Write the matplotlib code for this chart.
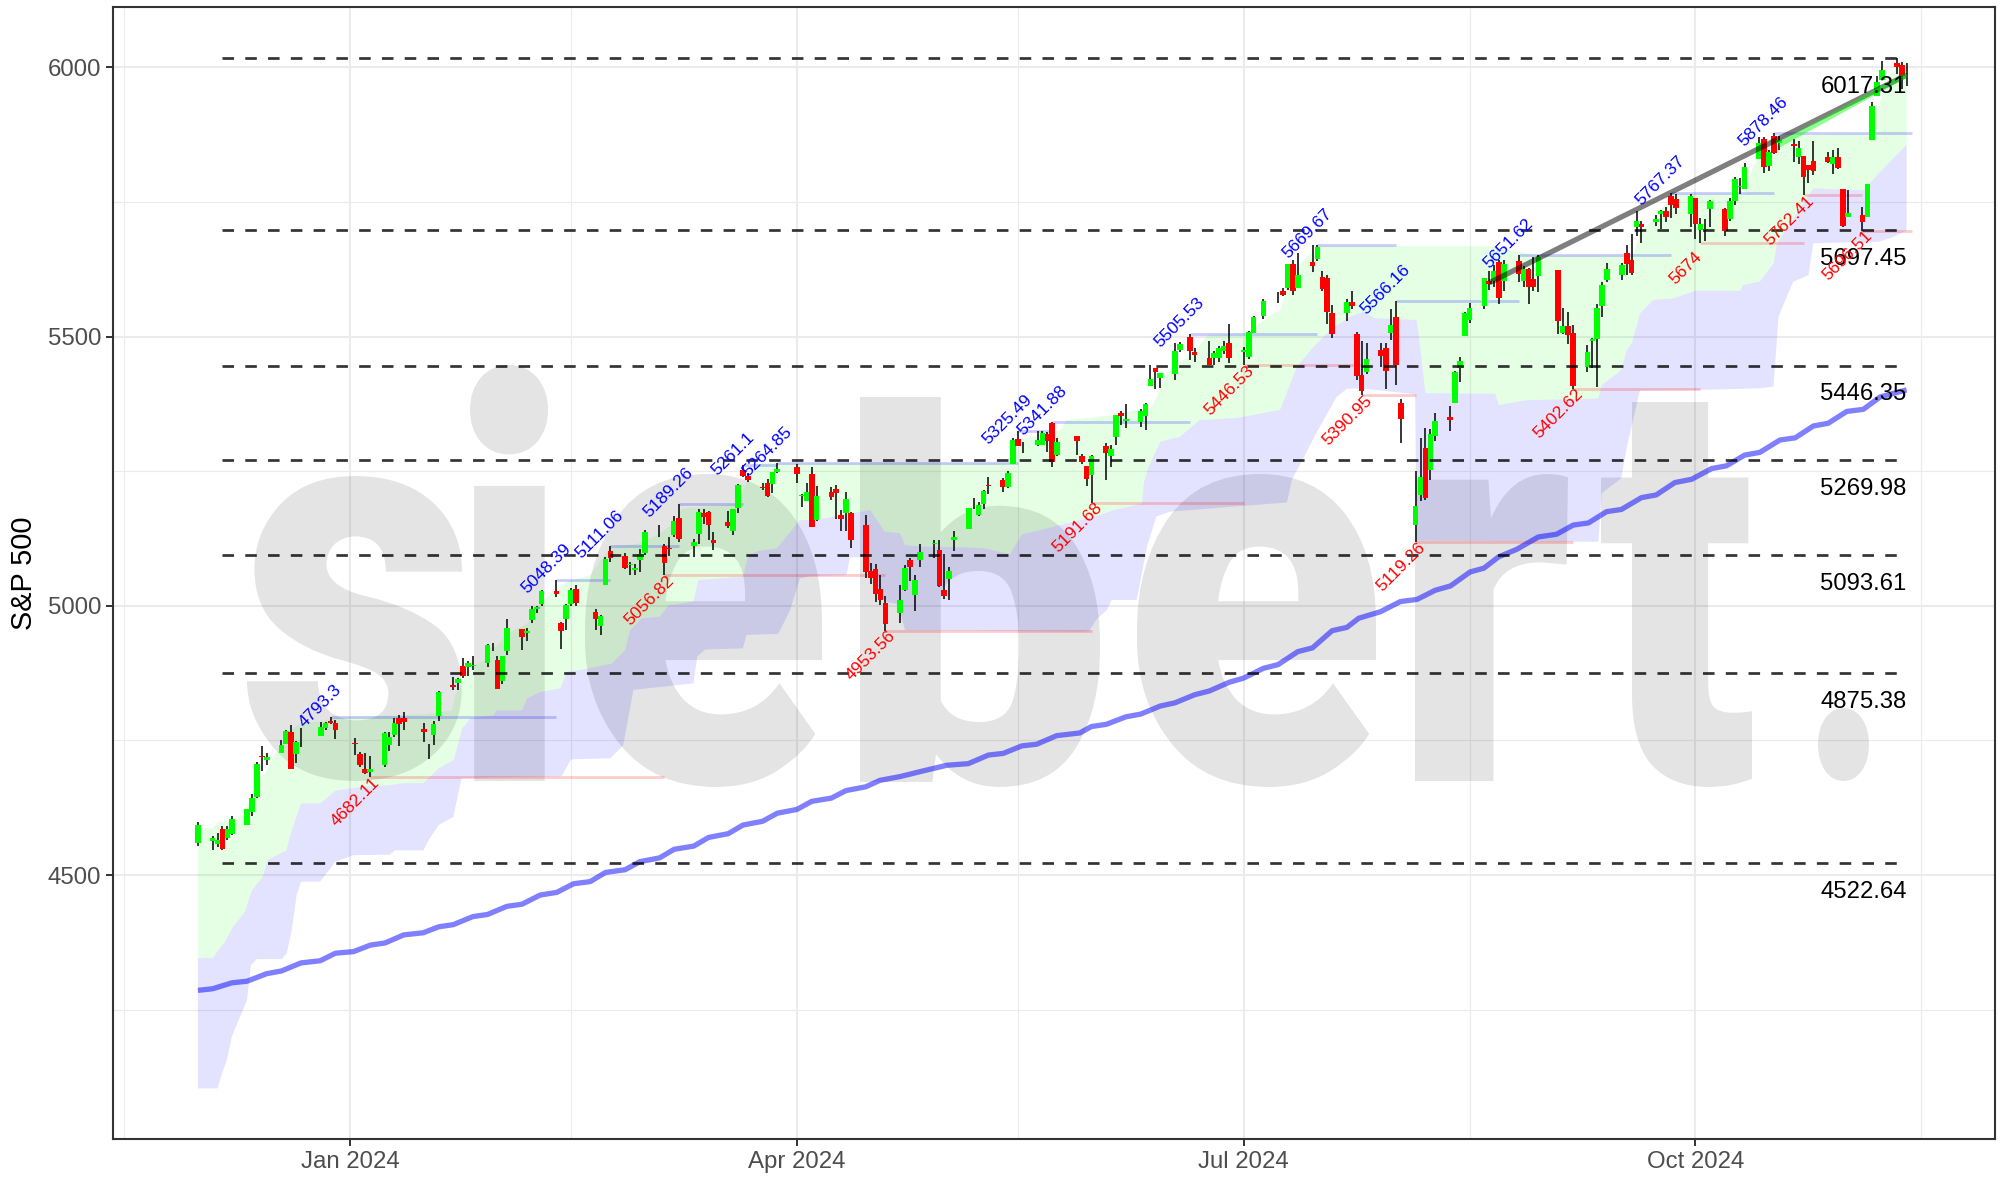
import pandas as pd
import matplotlib
matplotlib.use('Agg')
import matplotlib.pyplot as plt
import matplotlib.dates as mdates
from matplotlib.font_manager import FontProperties
from matplotlib.patches import PathPatch
from matplotlib.textpath import TextPath
from matplotlib.transforms import Affine2D, IdentityTransform

plt.rcParams['font.family'] = ['Liberation Sans', 'DejaVu Sans']

W, H = 2007, 1178

# date, open, high, low, close
dates = ['2023-12-01','2023-12-04','2023-12-05','2023-12-06','2023-12-07','2023-12-08','2023-12-11','2023-12-12','2023-12-13','2023-12-14','2023-12-15','2023-12-18','2023-12-19','2023-12-20','2023-12-21','2023-12-22','2023-12-26','2023-12-27','2023-12-28','2023-12-29',
         '2024-01-02','2024-01-03','2024-01-04','2024-01-05','2024-01-08','2024-01-09','2024-01-10','2024-01-11','2024-01-12','2024-01-16','2024-01-17','2024-01-18','2024-01-19','2024-01-22','2024-01-23','2024-01-24','2024-01-25','2024-01-26','2024-01-29','2024-01-30','2024-01-31',
         '2024-02-01','2024-02-02','2024-02-05','2024-02-06','2024-02-07','2024-02-08','2024-02-09','2024-02-12','2024-02-13','2024-02-14','2024-02-15','2024-02-16','2024-02-20','2024-02-21','2024-02-22','2024-02-23','2024-02-26','2024-02-27','2024-02-28','2024-02-29',
         '2024-03-01','2024-03-04','2024-03-05','2024-03-06','2024-03-07','2024-03-08','2024-03-11','2024-03-12','2024-03-13','2024-03-14','2024-03-15','2024-03-18','2024-03-19','2024-03-20','2024-03-21','2024-03-22','2024-03-25','2024-03-26','2024-03-27','2024-03-28',
         '2024-04-01','2024-04-02','2024-04-03','2024-04-04','2024-04-05','2024-04-08','2024-04-09','2024-04-10','2024-04-11','2024-04-12','2024-04-15','2024-04-16','2024-04-17','2024-04-18','2024-04-19','2024-04-22','2024-04-23','2024-04-24','2024-04-25','2024-04-26','2024-04-29','2024-04-30',
         '2024-05-01','2024-05-02','2024-05-03','2024-05-06','2024-05-07','2024-05-08','2024-05-09','2024-05-10','2024-05-13','2024-05-14','2024-05-15','2024-05-16','2024-05-17','2024-05-20','2024-05-21','2024-05-22','2024-05-23','2024-05-24','2024-05-28','2024-05-29','2024-05-30','2024-05-31',
         '2024-06-03','2024-06-04','2024-06-05','2024-06-06','2024-06-07','2024-06-10','2024-06-11','2024-06-12','2024-06-13','2024-06-14','2024-06-17','2024-06-18','2024-06-20','2024-06-21','2024-06-24','2024-06-25','2024-06-26','2024-06-27','2024-06-28',
         '2024-07-01','2024-07-02','2024-07-03','2024-07-05','2024-07-08','2024-07-09','2024-07-10','2024-07-11','2024-07-12','2024-07-15','2024-07-16','2024-07-17','2024-07-18','2024-07-19','2024-07-22','2024-07-23','2024-07-24','2024-07-25','2024-07-26','2024-07-29','2024-07-30','2024-07-31',
         '2024-08-01','2024-08-02','2024-08-05','2024-08-06','2024-08-07','2024-08-08','2024-08-09','2024-08-12','2024-08-13','2024-08-14','2024-08-15','2024-08-16','2024-08-19','2024-08-20','2024-08-21','2024-08-22','2024-08-23','2024-08-26','2024-08-27','2024-08-28','2024-08-29','2024-08-30',
         '2024-09-03','2024-09-04','2024-09-05','2024-09-06','2024-09-09','2024-09-10','2024-09-11','2024-09-12','2024-09-13','2024-09-16','2024-09-17','2024-09-18','2024-09-19','2024-09-20','2024-09-23','2024-09-24','2024-09-25','2024-09-26','2024-09-27','2024-09-30',
         '2024-10-01','2024-10-02','2024-10-03','2024-10-04','2024-10-07','2024-10-08','2024-10-09','2024-10-10','2024-10-11','2024-10-14','2024-10-15','2024-10-16','2024-10-17','2024-10-18','2024-10-21','2024-10-22','2024-10-23','2024-10-24','2024-10-25','2024-10-28','2024-10-29','2024-10-30','2024-10-31',
         '2024-11-01','2024-11-04','2024-11-05','2024-11-06','2024-11-07','2024-11-08','2024-11-11','2024-11-12','2024-11-13']
opens = [4559,4564,4558,4586,4569,4576,4593,4618,4646,4721,4714,4726,4744,4765,4724,4754,4759,4773,4786,4783,
         4745,4725,4697,4691,4704,4742,4760,4792,4791,4772,4739,4760,4796,4853,4857,4889,4887,4889,4893,4926,4899,
         4861,4916,4957,4950,4973,4995,5004,5027,4968,4976,5003,5031,4989,4963,5039,5101,5093,5075,5067,5085,
         5099,5131,5111,5108,5132,5164,5112,5134,5173,5175,5123,5155,5139,5182,5253,5242,5220,5229,5226,5248,
         5258,5204,5194,5244,5159,5211,5217,5168,5173,5172,5150,5065,5069,5032,5005,4987,5029,5085,5020,5085,5114,5104,
         5029,5049,5123,5142,5187,5169,5189,5225,5233,5221,5263,5310,5303,5299,5299,5319,5340,5281,5316,5279,5260,5243,
         5297,5278,5314,5358,5344,5341,5353,5409,5442,5424,5431,5476,5500,5472,5460,5461,5461,5474,5488,
         5471,5462,5507,5538,5573,5584,5591,5635,5591,5638,5644,5610,5609,5543,5544,5565,5505,5429,5434,5476,5479,5506,
         5537,5377,5151,5206,5293,5252,5315,5351,5377,5442,5501,5530,5557,5603,5603,5638,5603,5640,5603,5625,5607,5613,
         5624,5507,5520,5507,5443,5491,5496,5557,5605,5615,5656,5642,5703,5710,5712,5728,5734,5762,5755,5727,
         5758,5698,5698,5737,5737,5719,5752,5778,5775,5830,5867,5817,5872,5859,5858,5833,5835,5818,5827,5834,5820,5833,5775,
         5723,5725,5722,5865,5947,5977,6009,6004,5986]
highs = [4599,4572,4579,4591,4591,4609,4623,4650,4710,4739,4726,4750,4769,4778,4749,4773,4785,4785,4793.3,4788,
         4754,4729,4727,4721,4765,4765,4791,4798,4802,4782,4744,4786,4842,4868,4866,4904,4898,4907,4929,4931,4907,
         4907,4975,4957,4958,5000,5000,5030,5048.39,4970,5003,5033,5039,4994,4983,5090,5111.06,5098,5081,5077,5105,
         5140,5150,5115,5128,5166,5189.26,5125,5180,5179,5177,5137,5176,5180,5226,5261.1,5246,5229,5235,5249,5264.85,
         5264,5208,5229,5257,5222,5220,5225,5178,5212,5175,5168,5080,5078,5057,5019,5039,5076,5089,5058,5115,5123,5123,
         5096,5073,5139,5181,5200,5192,5215,5240,5237,5250,5312,5325.49,5305,5325,5324,5323,5341.88,5312,5316,5282,5260,5280,
         5302,5299,5354,5362,5375,5366,5376,5447,5442,5432,5489,5490,5505.53,5478,5491,5473,5483,5491,5524,
         5480,5510,5539,5570,5583,5591,5635,5642,5656,5671,5669.67,5622,5614,5558,5570,5585,5508,5492,5488,5488,5489,5551,
         5566.16,5384,5251,5312,5330,5328,5358,5371,5436,5463,5546,5562,5608,5621,5633,5643,5642,5651.62,5632,5627,5647,5651,
         5624,5553,5546,5522,5484,5498,5560,5601,5636,5636,5671,5690,5734,5715,5725,5735,5741,5767.37,5764,5765,
         5758,5720,5719,5753,5739,5758,5797,5795,5822,5871,5870,5847,5878.46,5872,5867,5863,5835,5818,5863,5843,5847,5851,5775,
         5773,5741,5783,5936,5984,6012,6017.31,6010,6008]
lows = [4555,4547,4552,4547,4565,4574,4593,4609,4643,4694,4705,4726,4744,4698,4708,4737,4758,4769,4781,4752,
        4723,4700,4688,4682.11,4700,4730,4756,4740,4769,4747,4715,4741,4786,4844,4844,4866,4869,4881,4887,4916,4845,
        4854,4908,4918,4935,4969,4987,5000,5017,4920,4956,4999,5000,4955,4946,5039,5081,5069,5058,5058,5062,
        5094,5127,5056.82,5092,5128,5118,5091,5114,5152,5123,5104,5145,5132,5172,5240,5230,5216,5203,5210,5246,
        5229,5184,5194,5146,5157,5197,5161,5139,5139,5108,5052,5040,5007,5002,4953.56,4969,5028,5047,4991,5073,5089,5035,
        5013,5011,5101,5142,5179,5166,5180,5208,5211,5218,5263,5296,5284,5296,5298,5286,5257,5278,5281,5263,5222,5191.68,
        5234,5258,5298,5335,5331,5332,5327,5409,5403,5404,5420,5471,5456,5452,5448,5447,5452,5468,5451,
        5446.53,5458,5507,5532,5563,5575,5586,5577,5590,5620,5640,5585,5523,5497,5529,5551,5420,5390.95,5431,5444,5402,5494,
        5410,5302,5119.26,5194,5196,5233,5306,5324,5377,5416,5501,5525,5551,5586,5592,5561,5585,5601,5593,5560,5584,5582,
        5504,5504,5487,5402.62,5434,5442,5407,5536,5602,5605,5614,5615,5686,5674,5705,5699,5712,5721,5727,5704,
        5681,5674,5677,5703,5687,5715,5745,5765,5775,5830,5804,5808,5840,5846,5824,5821,5762.41,5785,5800,5823,5802,5811,5703,
        5723,5696.51,5722,5865,5947,5977,5987,5960,5966]
closes = [4594,4569,4566,4549,4586,4604,4622,4644,4707,4719.5,4719,4741,4768,4698,4747,4755,4775,4782,4783,4770,
          4743,4705,4689,4697,4764,4757,4783,4780,4784,4766,4739.2,4781,4840,4850,4865,4869,4894,4891,4928,4925,4846,
          4906,4959,4943,4954,4995,4998,5027,5022,4953,5001,5030,5006,4976,4982,5087,5089,5070,5078,5070,5096,
          5137,5131,5079,5105,5157,5124,5118,5175,5165,5150,5117,5149,5179,5225,5242,5234,5218,5204,5248,5254,
          5244,5206,5211,5147,5204,5202,5210,5161,5199,5123,5062,5051,5022,5011,4967,5011,5071,5072,5048,5100,5116,5036,
          5018,5064,5128,5181,5188,5188,5214,5223,5221,5247,5308,5297,5303.3,5308,5321,5307,5268,5305,5306,5267,5235,5278,
          5283,5291,5354,5353,5347,5361,5375,5421,5434,5432,5473,5487,5473,5465,5448,5469,5478,5483,5460,
          5475,5509,5537,5567,5572.9,5577,5634,5585,5615,5631,5667,5588,5545,5505,5564,5556,5427,5399,5459,5464,5436,5522,
          5447,5347,5186,5240,5200,5319,5344,5344.4,5434,5455,5543,5554,5608,5597,5621,5571,5635,5617,5626,5592,5592,5648,
          5529,5520,5503,5408,5471,5496,5554,5596,5626,5633,5635,5618,5714,5703,5719,5733,5722,5745,5738,5762,
          5709,5710,5700,5751,5696,5751,5792,5780,5815,5860,5815,5842,5841,5865,5854,5851,5797,5810,5808,5824,5833,5814,5705,
          5729,5713,5783,5929,5973,5996,6001,5984,5985]

# swing levels: date of the point, value as printed, date the level runs to
high_dates = ['2023-12-28','2024-02-12','2024-02-23','2024-03-08','2024-03-21','2024-03-28','2024-05-16','2024-05-23','2024-06-20','2024-07-16','2024-08-01','2024-08-26','2024-09-26','2024-10-17']
high_values = [4793.3,5048.39,5111.06,5189.26,5261.1,5264.85,5325.49,5341.88,5505.53,5669.67,5566.16,5651.62,5767.37,5878.46]
high_labels = ['4793.3','5048.39','5111.06','5189.26','5261.1','5264.85','5325.49','5341.88','5505.53','5669.67','5566.16','5651.62','5767.37','5878.46']
high_ends = ['2024-02-12','2024-02-23','2024-03-08','2024-03-21','2024-03-28','2024-05-16','2024-05-23','2024-06-20','2024-07-16','2024-08-01','2024-08-26','2024-09-26','2024-10-17','2024-11-14']
low_dates = ['2024-01-05','2024-03-05','2024-04-19','2024-05-31','2024-07-01','2024-07-25','2024-08-05','2024-09-06','2024-10-02','2024-10-23','2024-11-04']
low_values = [4682.11,5056.82,4953.56,5191.68,5446.53,5390.95,5119.26,5402.62,5674,5762.41,5696.51]
low_labels = ['4682.11','5056.82','4953.56','5191.68','5446.53','5390.95','5119.26','5402.62','5674','5762.41','5696.51']
low_ends = ['2024-03-05','2024-04-19','2024-05-31','2024-07-01','2024-07-25','2024-08-05','2024-09-06','2024-10-02','2024-10-23','2024-11-04','2024-11-14']

levels = [6017.31,5697.45,5446.35,5269.98,5093.61,4875.38,4522.64]
level_labels = ['6017.31','5697.45','5446.35','5269.98','5093.61','4875.38','4522.64']

# band edges, days since 2024-01-01 and index value
top_days = [-31,-28,-26.8,-23.7,-21.3,-19.3,-17.3,-15.6,-13.9,-12.5,-10.1,-6,-2.7,15.7,17.7,20.7,21.4,24.5,27.5,28.2,29.6,32.6,36,38.1,40.8,44.2,48.9,53,59,63.1,65.9,67.6,78.8,80.1,82.2,83.9,134.8,135.8,137.2,140.6,144.6,145.9,155.4,163.2,164.3,165.6,168.3,171,174.8,182.6,187,189.4,191.1,193.5,197.2,231.5,242,261.3,262.7,265.8,269.5,284.1,284.8,287.2,289.9,309.3,310,311.5,313.5,315,317]
top_values = [4587,4587,4599,4599,4615,4676,4689,4720,4741,4766,4782,4786,4793,4799,4802,4806,4834,4887,4899,4921,4924,4952,4967,4998,5023,5045,5057,5110,5116,5135,5153,5181,5189,5218,5255,5265,5265,5290,5311,5317,5326,5345,5354,5370,5388,5425,5450,5463,5503,5506,5537,5549,5599,5636,5668,5668,5651,5651,5692,5723,5765,5766,5797,5840,5874,5877,5900,5935,5985,6000,6017]
mid_days = [-31,-28,-26.8,-25.5,-24.1,-21.4,-20,-17.8,-16.8,-13,-12,-10,-6.1,-3,2.4,8.1,10.9,14.9,18,21.1,22.8,24.5,29.2,29.9,35,36,38.7,42.8,44.2,46.9,53.3,56,57,59.4,63.1,64.8,69.9,70.9,80,81.1,83.1,86.9,91.6,95.7,105.9,108.9,112,113,116.7,124.9,129,134.4,136.8,139.8,152.8,155.5,161.3,161.6,162.6,165,169,173,180.6,189.4,192.8,196.2,199.6,203.6,206.4,208.7,217.2,217.6,219,233.2,234,239.6,254.2,254.9,258.9,260,261,262.7,265.4,269.5,273.9,283.1,283.7,287.1,289.9,290.6,298,308.2,311.3,317]
mid_values = [4346,4346,4361,4376,4401,4432,4472,4497,4528,4546,4580,4633,4633,4657,4664,4667,4671,4671,4698,4714,4772,4791,4797,4806,4806,4828,4840,4847,4878,4881,4893,4918,4955,4977,4980,5001,5008,5048,5054,5094,5102,5107,5159,5161,5178,5138,5135,5113,5110,5109,5107,5096,5133,5139,5169,5178,5190,5227,5258,5305,5314,5345,5349,5364,5444,5481,5512,5537,5546,5534,5531,5506,5395,5394,5373,5382,5385,5410,5438,5475,5487,5543,5568,5571,5585,5585,5596,5602,5636,5673,5775,5772,5803,5856]
bottom_days = [-31,-27,-26.1,-25.1,-24.1,-21,-20.2,-19,-13.9,-12.9,-11.9,-10.9,-10,-6.1,-3,0.7,8.1,9.2,14.9,16,18,21,22.7,43.1,45,53,55.6,57.7,69.9,70.7,72.3,80,80.7,87.2,89.6,91.6,93.6,101.1,101.8,105.2,106.6,108.9,111.6,113,148.6,150.5,152,154.1,155.1,160.2,162.3,164.2,167,190.8,191.8,193.2,196.9,200.9,203,205.7,216.9,217.2,254.2,254.9,258.9,260,262.7,275,287.1,289.9,290.9,293.9,297,298,300.7,311.3,314.3,317]
bottom_values = [4104,4104,4132,4157,4200,4268,4333,4344,4344,4355,4398,4463,4488,4488,4525,4537,4538,4546,4546,4565,4593,4608,4680,4684,4715,4717,4741,4844,4856,4906,4919,4921,4946,4948,4992,5051,5055,5057,5090,5091,5048,5008,5003,4955,4952,4953,4975,4992,5011,5011,5110,5166,5175,5192,5234,5258,5323,5388,5403,5404,5393,5121,5119,5209,5237,5295,5400,5401,5404,5407,5537,5602,5614,5673,5674,5676,5685,5697]

ma_days = [-31,-28,-24.1,-21,-17,-14,-10,-6.1,-3,0.7,4.1,7.1,10.9,14.9,18,21,25,28,31.9,35,38.7,42.1,45.5,48.9,52,56,59,63,66,70,73,77,80,84,87,91,94,98,101,105,107.9,112,116,121.5,125.9,130,133,136.8,139.8,143.9,148.6,151,154,158,161,165,168,172,175,179,182,186,189,193,196,200,203,205.4,209.8,213.9,217.3,221,224.1,228.1,230.9,233.9,237.6,242,245.7,249.1,252.2,255.9,258.9,263,266,269.8,273.2,277.3,280.3,284,287.1,291.2,294.3,298,301,304.8,308.2,311.6,317]
ma_values = [4286,4289,4300,4303,4317,4322,4337,4341,4355,4358,4370,4374,4389,4393,4404,4408,4423,4427,4442,4446,4463,4468,4484,4488,4505,4510,4525,4532,4548,4554,4570,4577,4593,4600,4615,4622,4637,4643,4657,4664,4676,4683,4692,4704,4707,4723,4726,4740,4743,4759,4764,4776,4780,4794,4799,4814,4820,4835,4842,4858,4866,4884,4891,4915,4922,4954,4960,4977,4989,5008,5012,5029,5037,5063,5070,5091,5105,5128,5133,5150,5154,5175,5179,5201,5206,5229,5235,5255,5260,5280,5285,5308,5312,5334,5339,5361,5365,5388,5401]

trend_days = [232,317]
trend_values = [5600,5985.7]
recent_days = [291,317]
recent_values = [5856,5986]
level_span_days = [-26,315]

logo_letters = ['s','i','e','b','e','r','t','.']
logo_boxes = [(247,476,462,781),(470,365,548,781),(585,474,822,787),(860,397,1100,787),(1137,474,1376,787),(1415,474,1568,781),(1601,402,1752,787),(1818,708,1869,781)]

base = mdates.date2num(pd.Timestamp('2024-01-01'))
x = mdates.date2num(pd.to_datetime(dates))
def day(v):
    return [base + d for d in v]
def num(v):
    return mdates.date2num(pd.to_datetime(v))

fig = plt.figure(figsize=(W / 100, H / 100), dpi=100)
ax = fig.add_axes([113 / W, 1 - 1139 / H, (1995 - 113) / W, (1139 - 6.5) / H])
ax.set_xlim(base - 48.3, base + 335)
ax.set_ylim(4010, 6113)

ax.set_axisbelow(True)
ax.set_xticks(num(['2024-01-01','2024-04-01','2024-07-01','2024-10-01']))
ax.set_xticklabels(['Jan 2024','Apr 2024','Jul 2024','Oct 2024'])
ax.set_xticks(num(['2023-11-16','2024-02-15','2024-05-16','2024-08-16','2024-11-16']), minor=True)
ax.set_yticks([4500,5000,5500,6000])
ax.set_yticks([4250,4750,5250,5750], minor=True)
ax.grid(which='major', color='#EBEBEB', lw=1.5)
ax.grid(which='minor', color='#EBEBEB', lw=0.8)
ax.tick_params(which='major', length=5, width=1.4, color='#333333', labelsize=17.3, labelcolor='#4D4D4D', pad=3.5)
ax.tick_params(which='minor', length=0)
for s in ax.spines.values():
    s.set_color('#333333')
    s.set_linewidth(1.5)
ax.set_ylabel('S&P 500', fontsize=20.8, labelpad=7)

# watermark, letters stretched into the logo's boxes
fp = FontProperties(family='Roboto', weight=900)
for ch, (x0, y0, x1, y1) in zip(logo_letters, logo_boxes):
    tp = TextPath((0, 0), ch, size=100, prop=fp)
    e = tp.get_extents()
    tr = Affine2D().translate(-e.x0, -e.y0).scale((x1 - x0) / e.width, (y1 - y0) / e.height).translate(x0, H - y1)
    ax.add_patch(PathPatch(tr.transform_path(tp), transform=IdentityTransform(), fc='black', ec='none', alpha=0.105, zorder=1.5))

ax.fill(day(top_days + mid_days[::-1]), top_values + mid_values[::-1], color='#00FF00', alpha=0.1, lw=0, zorder=2)
ax.fill(day(mid_days + bottom_days[::-1]), mid_values + bottom_values[::-1], color='#0000FF', alpha=0.11, lw=0, zorder=2)

ax.hlines(high_values, num(high_dates), num(high_ends), color='blue', alpha=0.2, lw=2, zorder=3)
ax.hlines(low_values, num(low_dates), num(low_ends), color='red', alpha=0.2, lw=2, zorder=3)

ax.vlines(x, lows, highs, color='black', lw=1.1, zorder=4)
up = [c >= o for o, c in zip(opens, closes)]
ax.bar(x, [abs(c - o) for o, c in zip(opens, closes)], bottom=[min(o, c) for o, c in zip(opens, closes)],
       width=1.15, color=['#00FF00' if u else '#FF0000' for u in up], lw=0, zorder=5)

ax.plot(day(ma_days), ma_values, color='#0000FF', alpha=0.5, lw=3.8, solid_capstyle='butt', zorder=6)
ax.plot(day(trend_days), trend_values, color='black', alpha=0.5, lw=3.8, solid_capstyle='butt', zorder=6)
ax.plot(day(recent_days), recent_values, color='#00FF00', alpha=0.45, lw=3.6, solid_capstyle='butt', zorder=6)

for lv, txt in zip(levels, level_labels):
    ax.plot(day(level_span_days), [lv, lv], color='black', alpha=0.8, lw=1.95, dashes=(4.26, 4.15), dash_capstyle='butt', zorder=7)
    ax.annotate(txt, (base + 317, lv), xytext=(0, -20.8), textcoords='offset points', ha='right', va='center', fontsize=17.2, color='black', zorder=8)

for d, v, txt in zip(high_dates, high_values, high_labels):
    ax.annotate(txt, (num([d])[0], v), xytext=(-7.5, 8.3), textcoords='offset points', ha='center', va='center', rotation=45, rotation_mode='anchor', fontsize=12.5, color='blue', zorder=8)
for d, v, txt in zip(low_dates, low_values, low_labels):
    ax.annotate(txt, (num([d])[0], v), xytext=(-10.5, -18), textcoords='offset points', ha='center', va='center', rotation=45, rotation_mode='anchor', fontsize=12.5, color='red', zorder=8)

fig.savefig('out.png', dpi=100)
